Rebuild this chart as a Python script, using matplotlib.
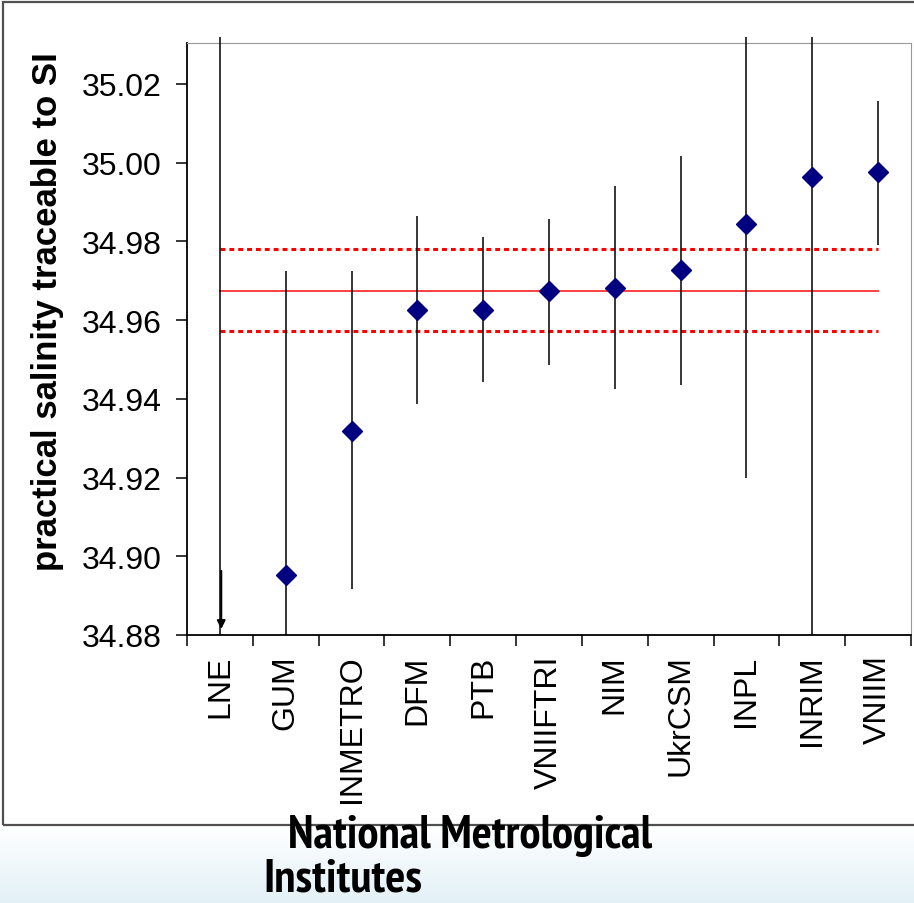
import numpy as np
import matplotlib
matplotlib.use("Agg")
import matplotlib.pyplot as plt
from matplotlib import font_manager
from matplotlib.patches import Rectangle
from matplotlib.font_manager import FontProperties

# font choices
names = {f.name for f in font_manager.fontManager.ttflist}
base_font = "Liberation Sans" if "Liberation Sans" in names else "DejaVu Sans"
plt.rcParams["font.family"] = [base_font, "DejaVu Sans"]

# look for a condensed bold face for the bottom caption
narrow = None
for f in font_manager.fontManager.ttflist:
    if "Narrow" in f.name and f.weight in (700, "bold"):
        narrow = f
        break
if narrow is None:
    for f in font_manager.fontManager.ttflist:
        if f.stretch in ("condensed", 300, "semi-condensed") or "Condensed" in f.fname:
            if f.weight in (700, "bold"):
                narrow = f
                break

# data
institutes = ["LNE", "GUM", "INMETRO", "DFM", "PTB", "VNIIFTRI", "NIM",
              "UkrCSM", "INPL", "INRIM", "VNIIM"]
values = [np.nan, 34.8952, 34.9318, 34.9626, 34.9626, 34.9674, 34.9682,
          34.9728, 34.9845, 34.9964, 34.9977]
upper = [35.032, 34.9725, 34.9725, 34.9865, 34.9811, 34.9857, 34.9941,
         35.0017, 35.032, 35.032, 35.0157]
lower = [34.88, 34.88, 34.8917, 34.9387, 34.9443, 34.9486, 34.9425,
         34.9435, 34.920, 34.88, 34.9791]
lne_arrow = (34.8963, 34.8815)
ref_value = 34.9674
ref_band = (34.9573, 34.9780)
yticks = [34.88, 34.90, 34.92, 34.94, 34.96, 34.98, 35.00, 35.02]

fig = plt.figure(figsize=(9.14, 9.04), dpi=100)

# light blue gradient strip at the bottom
bg = fig.add_axes([0, 0, 1, 0.0863], zorder=-5)
grad = np.linspace(0, 1, 100).reshape(-1, 1)
cmap = matplotlib.colors.LinearSegmentedColormap.from_list("bg", ["#e3f1f7", "#ffffff"])
bg.imshow(grad, aspect="auto", cmap=cmap, origin="lower", extent=[0, 1, 0, 1])
bg.axis("off")

# outer frame
fig.patches.append(Rectangle((3 / 914, 0.0863), 1.1, 0.9967 - 0.0863,
                             transform=fig.transFigure, fill=False,
                             edgecolor="#505050", linewidth=1.6))

ax = fig.add_axes([187 / 914, 1 - 636 / 904, (911 - 187) / 914, (636 - 44) / 904])
x = np.arange(len(institutes))

ax.vlines(x, lower, upper, color="black", linewidth=1.1, clip_on=False, zorder=3)
ax.plot(x, values, linestyle="none", marker="D", markersize=10,
        color="#000080", zorder=4)
ax.annotate("", xy=(x[0] + 0.02, lne_arrow[1]), xytext=(x[0] + 0.02, lne_arrow[0]),
            arrowprops=dict(arrowstyle="-|>", color="black", lw=1.5,
                            mutation_scale=12, shrinkA=0, shrinkB=0))

ax.plot([x[0], x[-1]], [ref_value, ref_value], color="#ff3030", linewidth=1.3, zorder=2)
for yb in ref_band:
    ax.plot([x[0], x[-1]], [yb, yb], color="red", linewidth=2.2,
            linestyle=(0, (1.6, 1.3)), zorder=2)

ax.set_xlim(-0.5, len(institutes) - 0.5)
ax.set_ylim(34.88, 35.0304)
ax.set_yticks(yticks)
ax.set_yticklabels([f"{v:.2f}" for v in yticks])
ax.set_xticks(x)
ax.set_xticklabels(institutes, rotation=90, va="top", ha="center")
ax.set_xticks(np.arange(-0.5, len(institutes)), minor=True)

ax.tick_params(axis="y", which="major", length=8, width=1.1, pad=10, labelsize=23)
ax.tick_params(axis="x", which="major", length=0, pad=14, labelsize=23)
ax.tick_params(axis="x", which="minor", length=8, width=1.1)

ax.spines["left"].set_color("black")
ax.spines["bottom"].set_color("black")
ax.spines["left"].set_linewidth(1.3)
ax.spines["bottom"].set_linewidth(1.3)
ax.spines["top"].set_color("#999999")
ax.spines["right"].set_color("#999999")

fig.text(48 / 914, 1 - 312 / 904, "practical salinity traceable to SI",
         rotation=90, ha="center", va="center", fontsize=25, fontweight="bold")

if narrow is not None:
    cap_font = FontProperties(fname=narrow.fname, size=34)
else:
    cap_font = FontProperties(family=[base_font], weight="bold", size=27)
fig.text(470 / 914, 1 - 848 / 904, "National Metrological", ha="center",
         va="baseline", fontproperties=cap_font)
fig.text(263 / 914, 1 - 892 / 904, "Institutes", ha="left",
         va="baseline", fontproperties=cap_font)

fig.savefig("out.png", dpi=100)
